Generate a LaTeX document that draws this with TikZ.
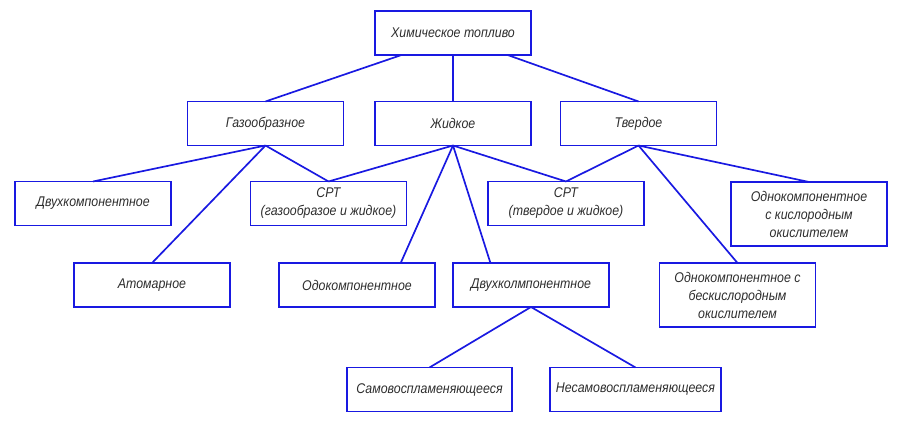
\documentclass[tikz,border=0pt]{standalone}
\usepackage{fontspec}
\setmainfont[FakeStretch=0.88]{Liberation Sans}
\usepackage{xcolor}
\usepackage{tikz}
\usetikzlibrary{positioning, calc}
\definecolor{linkblue}{RGB}{25, 25, 225}
\definecolor{textgray}{RGB}{45, 45, 45}

\begin{document}
\begin{tikzpicture}[x=0.025cm, y=-0.025cm,
    kind/.style={draw=linkblue, line width=1.2pt, outer sep=0pt, minimum width=3.9cm,
                 minimum height=1.1cm, align=center, text=textgray,
                 font=\fontsize{10}{12.8}\selectfont\itshape, inner sep=1pt},
    tall/.style={kind, minimum height=1.6cm},
    link/.style={draw=linkblue, line width=1.2pt}
]
    \useasboundingbox (0,0) rectangle (914,438);
    \node[kind] (fuel) at (453,33) {Химическое топливо};
    \node[kind] (gas) at (265.5,123.5) {Газообразное};
    \node[kind] (liquid) at (453,123.5) {Жидкое};
    \node[kind] (solid) at (638.5,123.5) {Твердое};
    \node[kind] (gastwo) at (93,203.5) {Двухкомпонентное};
    \node[kind] (srtgas) at (328.5,203.5) {СРТ\\(газообразое и жидкое)};
    \node[kind] (srtsolid) at (566,203.5) {СРТ\\(твердое и жидкое)};
    \node[tall] (oxy) at (809,214) {Однокомпонентное\\с кислородным\\окислителем};
    \node[kind] (atomic) at (152,285) {Атомарное};
    \node[kind] (liqone) at (357,285) {Одокомпонентное};
    \node[kind] (liqtwo) at (531,285) {Двухколмпонентное};
    \node[tall] (nooxy) at (737.5,295) {Однокомпонентное с\\бескислородным\\окислителем};
    \node[kind, minimum width=4.125cm] (selfign) at (429.5,389.5) {Самовоспламеняющееся};
    \node[kind, minimum width=4.275cm] (nonself) at (635.5,389.5) {Несамовоспламеняющееся};

    \draw[link] ($(fuel.south west)!.17!(fuel.south east)$) -- (gas.north);
    \draw[link] (fuel.south) -- (liquid.north);
    \draw[link] ($(fuel.south west)!.85!(fuel.south east)$) -- (solid.north);
    \draw[link] (gas.south) -- (gastwo.north);
    \draw[link] (gas.south) -- (atomic.north);
    \draw[link] (gas.south) -- (srtgas.north);
    \draw[link] (liquid.south) -- (srtgas.north);
    \draw[link] (liquid.south) -- ($(liqone.north west)!.78!(liqone.north east)$);
    \draw[link] (liquid.south) -- ($(liqtwo.north west)!.24!(liqtwo.north east)$);
    \draw[link] (liquid.south) -- (srtsolid.north);
    \draw[link] (solid.south) -- (srtsolid.north);
    \draw[link] (solid.south) -- (nooxy.north);
    \draw[link] (solid.south) -- (oxy.north);
    \draw[link] (liqtwo.south) -- (selfign.north);
    \draw[link] (liqtwo.south) -- (nonself.north);
\end{tikzpicture}
\end{document}
